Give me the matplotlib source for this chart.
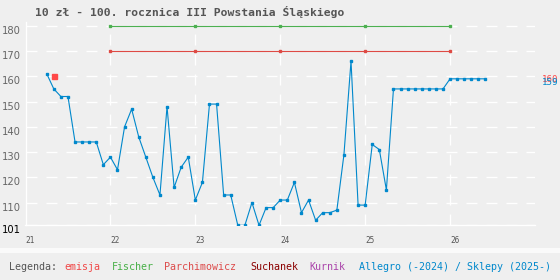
import matplotlib
matplotlib.use("Agg")
import matplotlib.pyplot as plt
import matplotlib.transforms as mtransforms
import pandas as pd

# Allegro (-2024) / Sklepy (2025-) monthly prices, from April 2021
allegro_start = "2021-04"
allegro_values = [161, 155, 152, 152, 134, 134, 134, 134, 125, 128, 123,
                  140, 147, 136, 128, 120, 113, 148, 116, 124, 128,
                  111, 118, 149, 149, 113, 113, 101, 101, 110, 101, 108, 108,
                  111, 111, 118, 106, 111, 103, 106, 106, 107, 129, 166, 109,
                  109, 133, 131, 115,
                  155, 155, 155, 155, 155, 155, 155, 155,
                  159, 159, 159, 159, 159, 159]

emisja_date = "2021-05"
emisja_value = 160

fischer_years = [22, 23, 24, 25, 26]
fischer_values = [180, 180, 180, 180, 180]
parch_years = [22, 23, 24, 25, 26]
parch_values = [170, 170, 170, 170, 170]

yticks = [101, 110, 120, 130, 140, 150, 160, 170, 180]
xticks = [21, 22, 23, 24, 25, 26]

legend_items = [("Legenda:", "#555555"), ("emisja", "#f04848"), ("Fischer", "#48b048"),
                ("Parchimowicz", "#dd4b4b"), ("Suchanek", "#8b0000"), ("Kurnik", "#aa44aa"),
                ("Allegro (-2024) / Sklepy (2025-)", "#0088cc")]
legend_x = [9, 64, 112, 164, 250, 309, 359]

BG = "#efefef"
BLUE = "#0088cc"
plt.rcParams["lines.scale_dashes"] = False


def to_x(period):
    return period.year - 2000 + (period.month - 1) / 12


periods = pd.period_range(allegro_start, periods=len(allegro_values), freq="M")
allegro_x = [to_x(p) for p in periods]
emisja_x = to_x(pd.Period(emisja_date, freq="M"))

W, H = 560, 280
fig = plt.figure(figsize=(5.6, 2.8), dpi=100, facecolor=BG)
ax = fig.add_axes([25.5 / W, 1 - 225.3 / H, (535 - 25.5) / W, (225.3 - 22) / H])
ax.set_facecolor(BG)

# white strip above the legend
fig.patches.append(plt.Rectangle((0, 1 - 253.3 / H), 1, 5 / H, transform=fig.transFigure,
                                 facecolor="#fafafa", edgecolor="none", zorder=0))

ax.set_xlim(21, 27)
ax.set_ylim(101, 181.5)

ax.set_yticks(yticks)
ax.set_yticklabels([])
ax.set_xticks(xticks)
ax.set_xticklabels([str(t) for t in xticks], fontsize=5.6, family="DejaVu Sans Mono",
                   color="#555555")
plt.setp(ax.get_xticklabels(), ha="left")
ax.tick_params(axis="both", length=0)
ax.tick_params(axis="x", pad=7.6)

ax.grid(True, color="white", linewidth=0.95, dashes=(7.9, 6.5))
ax.set_axisbelow(True)
for s in ["top", "right"]:
    ax.spines[s].set_visible(False)
for s in ["left", "bottom"]:
    ax.spines[s].set_color("white")
    ax.spines[s].set_linewidth(0.95)

# y labels, drawn just under each gridline
ytrans = mtransforms.blended_transform_factory(ax.transAxes, ax.transData)
for y in yticks:
    ax.text(-0.009, y, str(y), transform=ytrans, ha="right", va="top", fontsize=7.2,
            color="black" if y == yticks[0] else "#666666", family="DejaVu Sans")

ax.plot(fischer_years, fischer_values, color="#4cb050", lw=0.8, marker="s", ms=1.8, zorder=3)
ax.plot(parch_years, parch_values, color="#de4a44", lw=0.8, marker="s", ms=1.8, zorder=3)
ax.plot(allegro_x, allegro_values, color=BLUE, lw=0.8, marker="s", ms=2.0, zorder=4)
ax.plot([emisja_x], [emisja_value], color="#ff4848", marker="s", ms=3.6, ls="none", zorder=5)

# end labels on the right
off = mtransforms.ScaledTranslation(0, -3.5 / 100, fig.dpi_scale_trans)
ax.text(27.08, emisja_value, str(emisja_value), color="#ff4848", fontsize=6.6,
        family="DejaVu Sans Mono", va="center", ha="left", transform=ax.transData + off,
        clip_on=False)
ax.text(27.08, allegro_values[-1], str(allegro_values[-1]), color=BLUE, fontsize=6.6,
        family="DejaVu Sans Mono", va="center", ha="left", transform=ax.transData + off,
        clip_on=False)

fig.text(35 / W, 1 - 12 / H, "10 zł - 100. rocznica III Powstania Śląskiego",
         fontsize=8.2, fontweight="bold", family="DejaVu Sans Mono", color="#555555",
         ha="left", va="center")

for (txt, col), x in zip(legend_items, legend_x):
    fig.text(x / W, 1 - 266.7 / H, txt, fontsize=7.2, family="DejaVu Sans Mono",
             color=col, ha="left", va="center")

fig.savefig("out.png", dpi=100, facecolor=BG)
